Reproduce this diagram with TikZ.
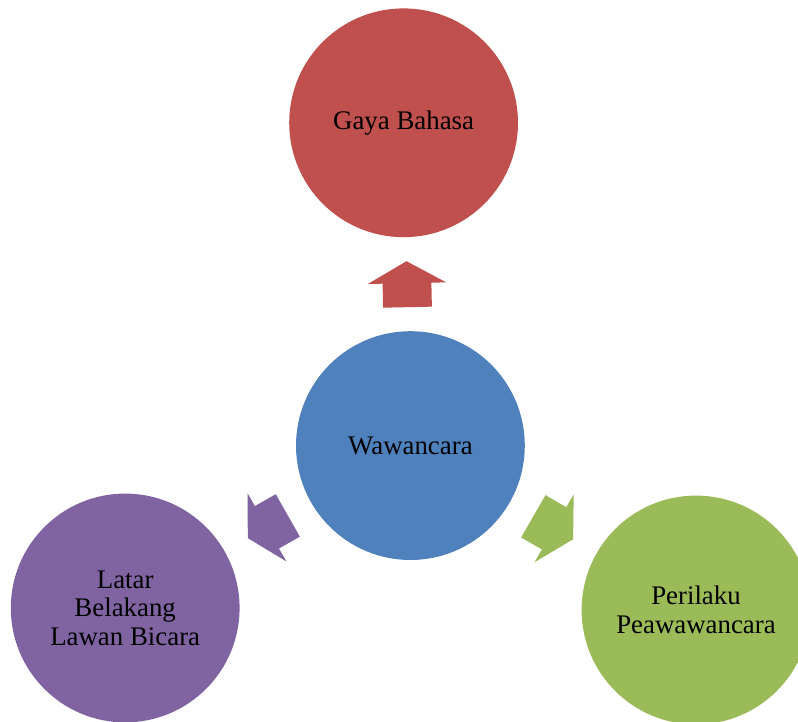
\documentclass[tikz,border=0pt]{standalone}
\usepackage{fontspec}
\setmainfont{Liberation Serif}
\usetikzlibrary{calc}

\definecolor{redacc}{HTML}{C0504D}
\definecolor{blueacc}{HTML}{4F81BD}
\definecolor{greenacc}{HTML}{9BBB59}
\definecolor{purpleacc}{HTML}{8064A2}

\tikzset{
	topic/.style={circle, draw=none, minimum size=5.72cm, inner sep=0pt,
		align=center, text=black, font=\fontsize{19.1}{20.3}\selectfont},
}

\begin{document}
\begin{tikzpicture}
	\clip (0,0) rectangle (19.95,18.05);
	\useasboundingbox (0,0) rectangle (19.95,18.05);
	\node[topic, fill=blueacc] (ctr) at (10.26,6.91) {Wawancara};
	\node[topic, fill=redacc] (gaya) at (10.09,14.98) {Gaya Bahasa};
	\node[topic, fill=purpleacc] (latar) at (3.13,2.85) {Latar\\Belakang\\Lawan Bicara};
	\node[topic, fill=greenacc] (peri) at (17.40,2.80) {Perilaku\\Peawawancara};
	% block arrows halfway between the centre and each outer circle
	\foreach \t/\ang/\col in {gaya/91.2/redacc, latar/209.6/purpleacc, peri/-30/greenacc} {
		\coordinate (m) at ($(ctr)!0.5!(\t)$);
		\fill[\col, shift={(m)}, rotate=\ang]
			(-0.575,-0.61) -- (0.025,-0.61) -- (0.025,-0.98) -- (0.575,0)
			-- (0.025,0.98) -- (0.025,0.61) -- (-0.575,0.61) -- cycle;
	}
\end{tikzpicture}
\end{document}
